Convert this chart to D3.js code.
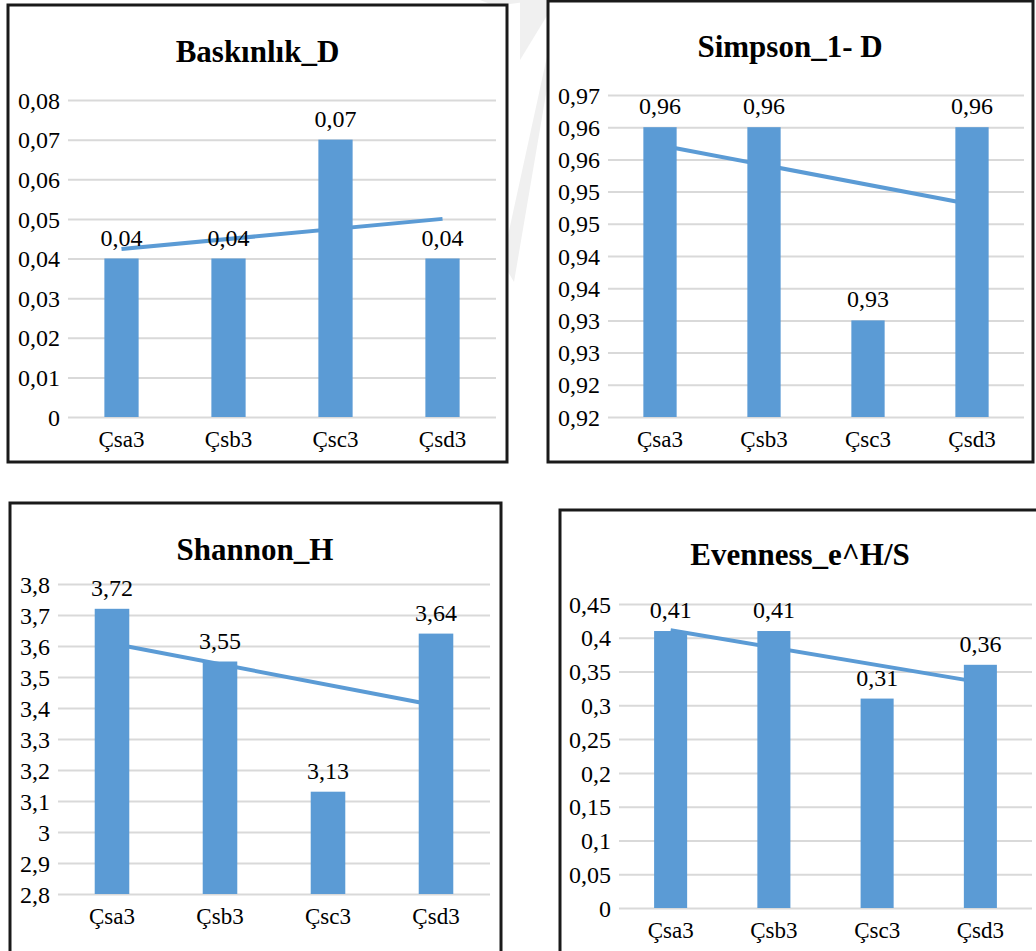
<!DOCTYPE html>
<html><head><meta charset="utf-8">
<script src="https://cdn.jsdelivr.net/npm/d3@7"></script>
</head><body style="margin:0;background:#fff">
<svg id="c" width="1036" height="951" style="display:block"></svg>
<script>
// ---------- DATA ----------
const categories = ["Çsa3", "Çsb3", "Çsc3", "Çsd3"];

const baskinlikTitle = "Baskınlık_D";
const baskinlikValues = [0.04, 0.04, 0.07, 0.04];
const baskinlikLabels = ["0,04", "0,04", "0,07", "0,04"];
const baskinlikTrend = [0.0424, 0.0500];
const baskinlikTicks = [0, 0.01, 0.02, 0.03, 0.04, 0.05, 0.06, 0.07, 0.08];
const baskinlikTickLabels = ["0", "0,01", "0,02", "0,03", "0,04", "0,05", "0,06", "0,07", "0,08"];

const simpsonTitle = "Simpson_1- D";
const simpsonValues = [0.965, 0.965, 0.935, 0.965];
const simpsonLabels = ["0,96", "0,96", "0,93", "0,96"];
const simpsonTrend = [0.9622, 0.9530];
const simpsonTicks = [0.92, 0.925, 0.93, 0.935, 0.94, 0.945, 0.95, 0.955, 0.96, 0.965, 0.97];
const simpsonTickLabels = ["0,92", "0,92", "0,93", "0,93", "0,94", "0,94", "0,95", "0,95", "0,96", "0,96", "0,97"];

const shannonTitle = "Shannon_H";
const shannonValues = [3.72, 3.55, 3.13, 3.64];
const shannonLabels = ["3,72", "3,55", "3,13", "3,64"];
const shannonTrend = [3.608, 3.408];
const shannonTicks = [2.8, 2.9, 3.0, 3.1, 3.2, 3.3, 3.4, 3.5, 3.6, 3.7, 3.8];
const shannonTickLabels = ["2,8", "2,9", "3", "3,1", "3,2", "3,3", "3,4", "3,5", "3,6", "3,7", "3,8"];

const evennessTitle = "Evenness_e^H/S";
const evennessValues = [0.41, 0.41, 0.31, 0.36];
const evennessLabels = ["0,41", "0,41", "0,31", "0,36"];
const evennessTrend = [0.411, 0.334];
const evennessTicks = [0, 0.05, 0.1, 0.15, 0.2, 0.25, 0.3, 0.35, 0.4, 0.45];
const evennessTickLabels = ["0", "0,05", "0,1", "0,15", "0,2", "0,25", "0,3", "0,35", "0,4", "0,45"];

// ---------- LAYOUT ----------
const charts = [
  {title: baskinlikTitle, values: baskinlikValues, labels: baskinlikLabels, trend: baskinlikTrend,
   ticks: baskinlikTicks, tickLabels: baskinlikTickLabels,
   box: [8, 5, 499, 457], plot: [68, 496, 100, 417], tx: 257.5, ty: 62},
  {title: simpsonTitle, values: simpsonValues, labels: simpsonLabels, trend: simpsonTrend,
   ticks: simpsonTicks, tickLabels: simpsonTickLabels,
   box: [548, 1, 485, 461], plot: [608, 1024, 95, 417], tx: 790, ty: 57},
  {title: shannonTitle, values: shannonValues, labels: shannonLabels, trend: shannonTrend,
   ticks: shannonTicks, tickLabels: shannonTickLabels,
   box: [10, 503, 491, 470], plot: [58, 490, 584, 894], tx: 255, ty: 560},
  {title: evennessTitle, values: evennessValues, labels: evennessLabels, trend: evennessTrend,
   ticks: evennessTicks, tickLabels: evennessTickLabels,
   box: [560, 510, 500, 470], plot: [619, 1032, 604, 908], tx: 800, ty: 565}
];

const FONT = "Liberation Serif";
const BAR = "#5b9bd5";
const GRID = "#d9d9d9";
const svg = d3.select("#c");
const serif = sel => sel.attr("font-family", FONT).style("font-family", FONT, "important");

// faint watermark bands in the gaps
const wm = svg.append("g").attr("fill", "#f0f0f0");
wm.append("polygon").attr("points", "548,52 548,82 514,282 507,270 507,240");
wm.append("polygon").attr("points", "520,0 548,0 548,14 520,60");
wm.append("polygon").attr("points", "480,0 540,0 510,4 490,4");

charts.forEach(c => {
  const g = svg.append("g");
  const [bx, by, bw, bh] = c.box;
  g.append("rect").attr("x", bx).attr("y", by).attr("width", bw).attr("height", bh)
    .attr("fill", "#fff").attr("stroke", "#1a1a1a").attr("stroke-width", 3);

  const [x0, x1, yTop, yBot] = c.plot;
  const x = d3.scaleBand().domain(categories).range([x0, x1]).paddingInner(0.68).paddingOuter(0.34);
  const y = d3.scaleLinear().domain([c.ticks[0], c.ticks[c.ticks.length - 1]]).range([yBot, yTop]);

  // y axis + gridlines
  const ya = g.append("g").attr("transform", `translate(${x0},0)`)
    .call(d3.axisLeft(y).tickValues(c.ticks).tickFormat((d, i) => c.tickLabels[i])
      .tickSize(-(x1 - x0)).tickPadding(8));
  serif(ya).attr("font-size", 24);
  ya.select(".domain").remove();
  ya.selectAll(".tick line").attr("stroke", GRID).attr("stroke-width", 2);
  serif(ya.selectAll(".tick text")).style("font-size", "24px")
    .attr("fill", "#000").attr("dy", "0.34em");

  // x axis labels
  const xa = g.append("g").attr("transform", `translate(0,${yBot})`)
    .call(d3.axisBottom(x).tickSize(0));
  serif(xa).attr("font-size", 23);
  xa.select(".domain").remove();
  serif(xa.selectAll(".tick text")).style("font-size", "23px")
    .attr("fill", "#000").attr("y", 30).attr("dy", null);

  // trend line (behind bars)
  const cx = d => x(d) + x.bandwidth() / 2;
  g.append("line")
    .attr("x1", cx(categories[0])).attr("x2", cx(categories[categories.length - 1]))
    .attr("y1", y(c.trend[0])).attr("y2", y(c.trend[1]))
    .attr("stroke", BAR).attr("stroke-width", 4);

  // bars
  g.selectAll("rect.bar").data(c.values).join("rect").attr("class", "bar")
    .attr("x", (d, i) => x(categories[i])).attr("width", x.bandwidth())
    .attr("y", d => y(d)).attr("height", d => yBot - y(d)).attr("fill", BAR);

  // data labels
  serif(g.selectAll("text.lbl").data(c.values).join("text").attr("class", "lbl"))
    .attr("x", (d, i) => cx(categories[i])).attr("y", d => y(d) - 13)
    .attr("text-anchor", "middle").style("font-size", "24px")
    .attr("fill", "#000").text((d, i) => c.labels[i]);

  // title
  serif(g.append("text")).attr("x", c.tx).attr("y", c.ty).attr("text-anchor", "middle")
    .style("font-size", "31px").style("font-weight", "bold")
    .attr("fill", "#000").text(c.title);
});
</script>
</body></html>
